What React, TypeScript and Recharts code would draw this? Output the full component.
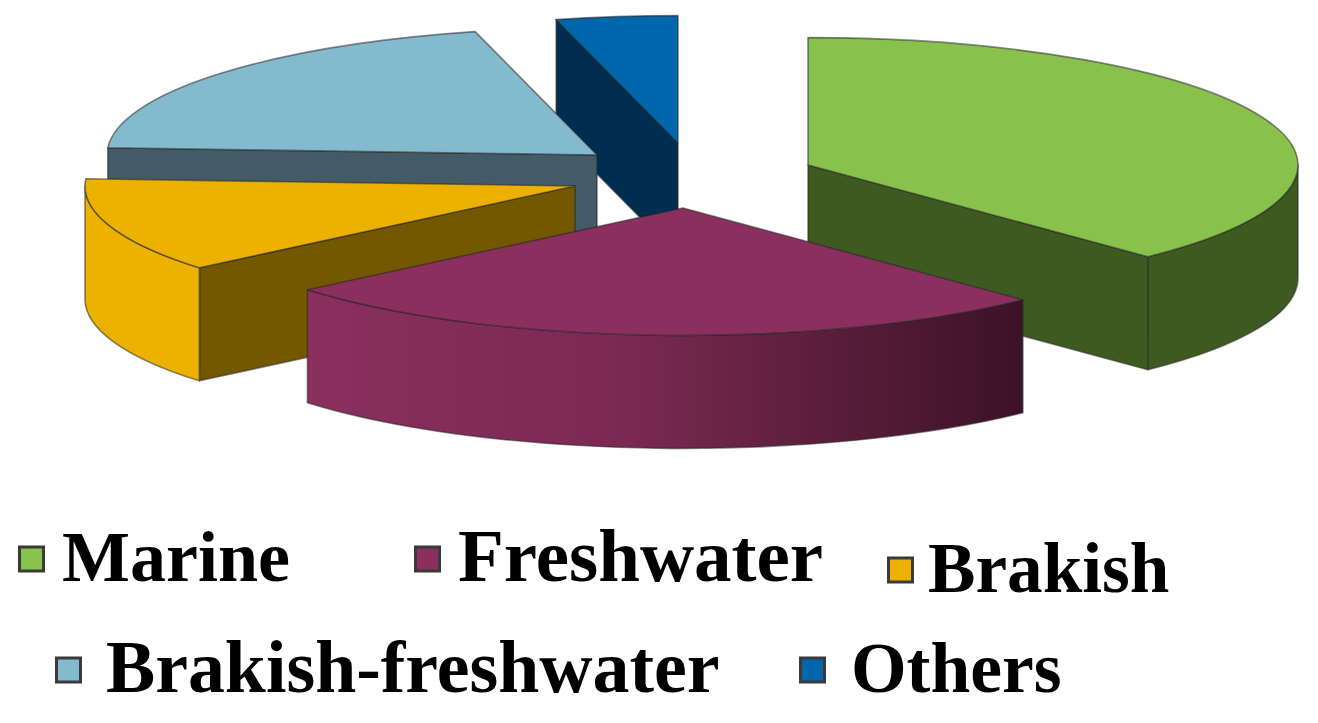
import { Pie, PieChart } from 'recharts';

const categories = ['Marine', 'Freshwater', 'Brakish', 'Brakish-freshwater', 'Others'];
const shares = [37.8, 26.1, 12, 20.1, 4];

const topColors = ['#88C14C', '#8B2F5E', '#EDB200', '#84BACD', '#0067AD'];
const sideColors = ['#3E5A21', '#6E2449', '#745800', '#425B66', '#002E50'];
const rimColors = ['#3E5A21', 'url(#freshRim)', '#EDB200', '#425B66', '#002E50'];

// back to front, each slice gets its own Pie so the overlap comes out right
const paintOrder = ['Others', 'Brakish-freshwater', 'Marine', 'Brakish', 'Freshwater'];

// how far each slice is pulled out of the pie
const explodeX = [118, -7, -115, -93, -12];
const explodeY = [0, 43, 21, -10, -22];

const legendX = [18, 414, 887, 55, 799];
const legendTextX = [62, 458, 928, 106, 851];
const legendBaseline = [581, 581, 592, 692, 692];
const legendSizes = [72, 75, 71.2, 73.8, 71.5];

const WIDTH = 1318;
const HEIGHT = 723;
const SQUASH = 0.26;
const DEPTH = 113;
const EDGE = 'rgba(40,40,40,0.55)';

const data = categories.map((name, i) => ({ name, value: shares[i] }));
const RAD = Math.PI / 180;

function Slice(props: any) {
  const { cx, cy, outerRadius, startAngle, endAngle, payload } = props;
  const i = categories.indexOf(payload.name);
  const ox = cx + explodeX[i];
  const oy = cy + explodeY[i];
  const rx = outerRadius;
  const ry = outerRadius * SQUASH;
  const at = (a: number, drop = 0) => `${ox + rx * Math.cos(a * RAD)} ${oy - ry * Math.sin(a * RAD) + drop}`;
  const arc = (to: number) => `A ${rx} ${ry} 0 ${Math.abs(startAngle - endAngle) > 180 ? 1 : 0} 1 ${at(to)}`;
  const wall = (a: number) => `M ${ox} ${oy} L ${at(a)} L ${at(a, DEPTH)} L ${ox} ${oy + DEPTH} Z`;

  // a cut face only shows when it turns towards the viewer
  const startWallShows = Math.cos(startAngle * RAD) < -0.001;
  const endWallShows = Math.cos(endAngle * RAD) > 0.001;

  // only the part of the rim below the horizontal faces the viewer
  const frontStart = Math.min(startAngle, 0);
  const frontEnd = Math.max(endAngle, -180);
  const hasRim = frontStart > frontEnd;

  return (
    <g stroke={EDGE} strokeWidth={1.6} strokeLinejoin="round">
      {startWallShows && <path d={wall(startAngle)} fill={sideColors[i]} />}
      {endWallShows && <path d={wall(endAngle)} fill={sideColors[i]} />}
      {hasRim && (
        <path
          d={`M ${at(frontStart)} A ${rx} ${ry} 0 0 1 ${at(frontEnd)} L ${at(frontEnd, DEPTH)} A ${rx} ${ry} 0 0 0 ${at(frontStart, DEPTH)} Z`}
          fill={rimColors[i]}
        />
      )}
      <path d={`M ${ox} ${oy} L ${at(startAngle)} ${arc(endAngle)} Z`} fill={topColors[i]} />
    </g>
  );
}

function LegendBlock() {
  return (
    <svg width={WIDTH} height={HEIGHT} style={{ position: 'absolute', left: 0, top: 0 }}>
      {categories.map((name, i) => (
        <g key={name}>
          <rect
            x={legendX[i] + 1.5}
            y={legendBaseline[i] - 34}
            width={24}
            height={24}
            fill={topColors[i]}
            stroke="#3a3a3a"
            strokeWidth={3}
          />
          <text
            x={legendTextX[i]}
            y={legendBaseline[i]}
            fontFamily="'Liberation Serif', serif"
            fontWeight="bold"
            fontSize={legendSizes[i]}
            fill="#000"
          >
            {name}
          </text>
        </g>
      ))}
    </svg>
  );
}

export default function App() {
  return (
    <div style={{ position: 'absolute', left: 0, top: 0, width: WIDTH, height: HEIGHT, background: '#fff', overflow: 'hidden' }}>
      <div style={{ position: 'absolute', left: 0, top: 0, filter: 'blur(0.5px)' }}>
        <PieChart width={WIDTH} height={HEIGHT} margin={{ top: 0, right: 0, bottom: 0, left: 0 }}>
          <defs>
            <linearGradient id="freshRim" x1="0" y1="0" x2="1" y2="0">
              <stop offset="0%" stopColor="#8B2F5E" />
              <stop offset="45%" stopColor="#7A2952" />
              <stop offset="100%" stopColor="#3C1226" />
            </linearGradient>
          </defs>
          {paintOrder.map(name => (
            <Pie
              key={name}
              data={data}
              dataKey="value"
              nameKey="name"
              cx={690}
              cy={165}
              innerRadius={0}
              outerRadius={490}
              startAngle={90}
              endAngle={-270}
              stroke="none"
              isAnimationActive={false}
              shape={(props: any) => (props.payload.name === name ? <Slice {...props} /> : <g />)}
            />
          ))}
        </PieChart>
      </div>
      <LegendBlock />
    </div>
  );
}
